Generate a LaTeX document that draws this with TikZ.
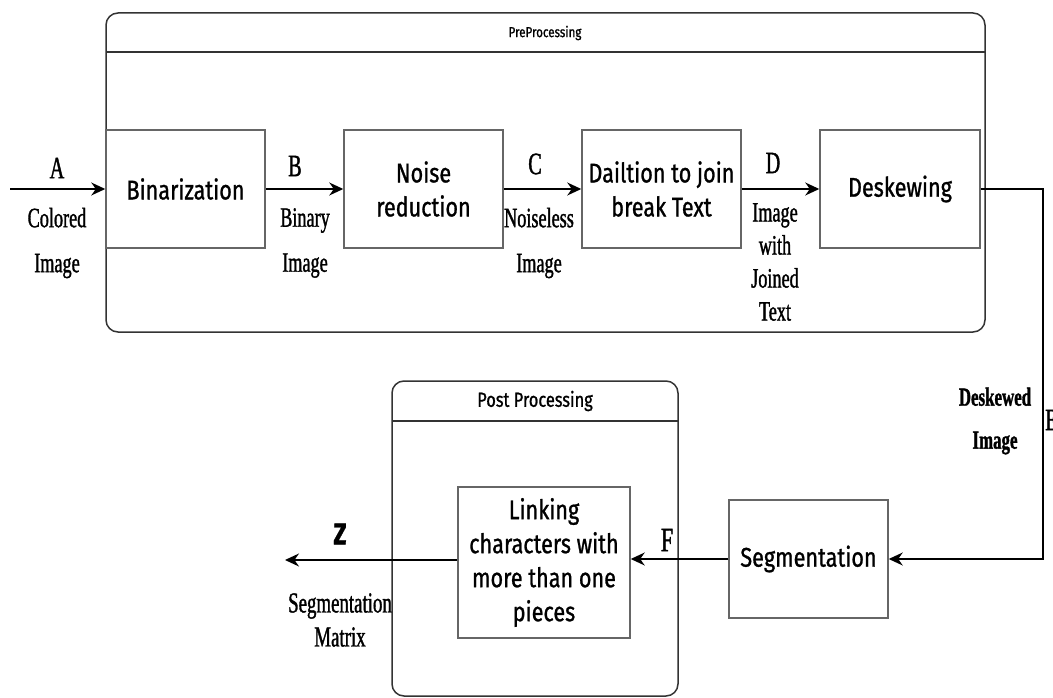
\documentclass[tikz,border=0pt]{standalone}
\usepackage{fontspec}
\setmainfont{Liberation Serif}[FakeStretch=0.65,FakeBold=1.2]
\newfontfamily\boxfont{Fira Sans}[FakeStretch=0.8,FakeBold=1]
\usetikzlibrary{arrows.meta}
\begin{document}
\begin{tikzpicture}[x=1pt,y=-1pt,
  proc/.style={draw=black!60,line width=1.5pt,minimum width=159pt,minimum height=118pt,inner sep=0pt,align=center,font=\boxfont\fontsize{27}{34}\selectfont},
  cont/.style={draw=black!80,line width=1.5pt,rounded corners=12pt},
  lbl/.style={font=\fontsize{28}{33}\selectfont,inner sep=0pt,align=center},
  arr/.style={line width=1.3pt,-{Stealth[length=14pt,width=13pt]}},
  ln/.style={line width=1.3pt}]
\useasboundingbox (0,0) rectangle (1053,698);
% containers
\draw[cont] (106,13) rectangle (985,332);
\draw[line width=1.5pt,black!80] (106,52) -- (985,52);
\node[font=\boxfont\fontsize{14.5}{17}\selectfont] (pretitle) at (545,33) {PreProcessing};
\draw[cont] (392,381) rectangle (678,696);
\draw[line width=1.5pt,black!80] (392,421) -- (678,421);
\node[font=\boxfont\fontsize{20.5}{22}\selectfont] (posttitle) at (535,401) {Post Processing};
% process boxes
\node[proc] (bin) at (185.5,189) {Binarization};
\node[proc] (noise) at (423.5,189) {Noise\\reduction};
\node[proc] (dil) at (661.5,189) {Dailtion to join\\break Text};
\node[proc,minimum width=160pt] (desk) at (900,189) {Deskewing};
\node[proc] (seg) at (808.5,559) {Segmentation};
\node[proc,minimum width=172pt,minimum height=151pt] (link) at (544,562.5) {Linking\\characters with\\more than one\\pieces};
% connectors
\coordinate (in) at (10,189);
\coordinate (corner) at (1043,189);
\coordinate (out) at (285,560);
\draw[arr] (in) -- (bin.west);
\draw[arr] (bin.east) -- (noise.west);
\draw[arr] (noise.east) -- (dil.west);
\draw[arr] (dil.east) -- (desk.west);
\draw[arr] (desk.east) -- (corner) |- (seg.east);
\draw[arr] (seg.west) -- (seg.west -| link.east);
\draw[arr] (link.west |- out) -- (out);
% labels
\node[lbl,font=\fontsize{31}{33}\selectfont] (A) at (57,168) {A};
\node[lbl] (Ad) at (57,243) {Colored\\[12pt]Image};
\node[lbl,font=\fontsize{31}{33}\selectfont] (B) at (295,166) {B};
\node[lbl] (Bd) at (305,243) {Binary\\[12pt]Image};
\node[lbl,font=\fontsize{31}{33}\selectfont] (C) at (535,164) {C};
\node[lbl] (Cd) at (539,243) {Noiseless\\[12pt]Image};
\node[lbl,font=\fontsize{31}{33}\selectfont] (D) at (773,163) {D};
\node[lbl] (Dd) at (775,262) {Image\\with\\Joined\\Text};
\node[lbl,font=\bfseries\fontsize{26}{43}\selectfont] (Ed) at (995,421) {Deskewed\\Image};
\node[lbl,anchor=west,font=\fontsize{31}{33}\selectfont] (E) at (1045,420) {E};
\node[lbl,font=\fontsize{34}{36}\selectfont] (F) at (667,540) {F};
\node[lbl,font=\boxfont\bfseries\fontsize{30}{34}\selectfont] (Z) at (340,534) {Z};
\node[lbl,font=\fontsize{29}{34}\selectfont] (Zd) at (340,620) {Segmentation\\Matrix};
\end{tikzpicture}
\end{document}
